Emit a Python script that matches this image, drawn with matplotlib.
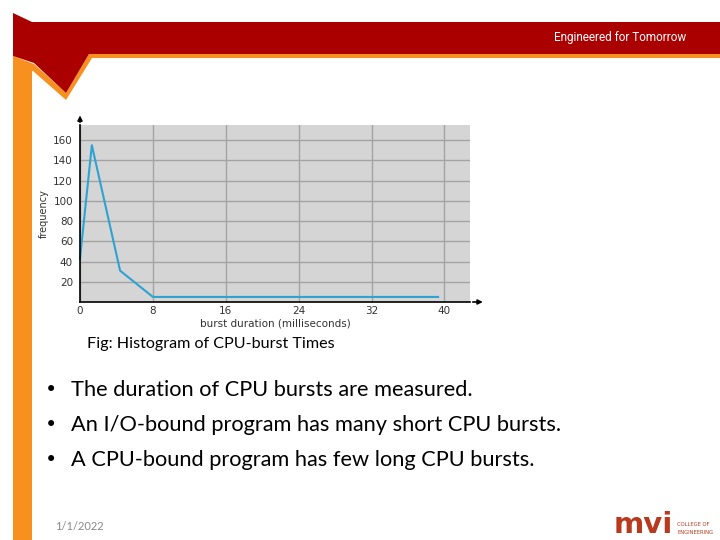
import matplotlib
matplotlib.use('Agg')
import matplotlib.pyplot as plt
from matplotlib.patches import Polygon

# Datos del histograma
burst_ms = [0, 1.3, 4.4, 8, 39.3]
frecuencia = [43, 155, 31, 5, 5]
xticks = [0, 8, 16, 24, 32, 40]
yticks = [20, 40, 60, 80, 100, 120, 140, 160]

caption = 'Fig: Histogram of CPU-burst Times'
bullets = ['The duration of CPU bursts are measured.',
           'An I/O-bound program has many short CPU bursts.',
           'A CPU-bound program has few long CPU bursts.']

W, H = 720, 540
fig = plt.figure(figsize=(7.2, 5.4), dpi=100)

# capa de la diapositiva en pixeles
bg = fig.add_axes([0, 0, 1, 1])
bg.set_xlim(0, W)
bg.set_ylim(H, 0)
bg.axis('off')

naranja = '#f7901e'
rojo = '#ab0000'
bg.add_patch(Polygon([(13, 56), (34, 64), (66, 93), (89, 54), (720, 54), (720, 58),
                      (92, 58), (66, 100), (33, 71), (32, 71), (32, 540), (13, 540)],
                     closed=True, color=naranja, lw=0))
bg.add_patch(Polygon([(13, 13), (32, 22), (720, 22), (720, 54), (89, 54), (66, 93),
                      (34, 63), (13, 56)], closed=True, color=rojo, lw=0))
bg.text(686, 37, 'Engineered for Tomorrow', color='white', fontsize=8.5,
        family='Roboto', ha='right', va='center')

bg.text(87, 344, caption, fontsize=11.6, family='Lato', va='center')
for i, b in enumerate(bullets):
    y = 390 + i * 35
    bg.text(45, y, '•', fontsize=15, family='DejaVu Sans', va='center')
    bg.text(71, y, b, fontsize=15.7, family='Lato', va='center')
bg.text(55, 527, '1/1/2022', fontsize=8, color='#888888', family='Lato', va='center')

# logo
bg.text(614, 539, 'mvi', fontsize=21, fontweight='bold', color='#b83a1e',
        family='DejaVu Sans', va='bottom')
bg.text(677, 525, 'COLLEGE OF', fontsize=3.8, color='#b83a1e', va='center')
bg.text(677, 532, 'ENGINEERING', fontsize=3.8, color='#b83a1e', va='center')

# grafico
ax = fig.add_axes([80 / W, (H - 302) / H, (470 - 80) / W, (302 - 125) / H])
ax.set_facecolor('#d5d5d5')
ax.set_xlim(0, 42.8)
ax.set_ylim(0, 175)
ax.set_xticks(xticks)
ax.set_yticks(yticks)
ax.grid(True, color='#a3a3a3', lw=1.0)
ax.set_axisbelow(True)
ax.tick_params(length=0, labelsize=7.5, colors='#333333', pad=5)
ax.tick_params(axis='x', pad=3)
for s in ['top', 'right']:
    ax.spines[s].set_visible(False)
ax.spines['left'].set_linewidth(1.2)
ax.spines['bottom'].set_linewidth(1.2)
ax.plot(burst_ms, frecuencia, color='#2ea3d2', lw=1.5, clip_on=False)

# flechas de los ejes
ax.annotate('', xy=(1.04, 0), xytext=(1.0, 0), xycoords='axes fraction',
            arrowprops=dict(arrowstyle='-|>', color='black', lw=1.2, mutation_scale=7))
ax.annotate('', xy=(0, 1.07), xytext=(0, 1.0), xycoords='axes fraction',
            arrowprops=dict(arrowstyle='-|>', color='black', lw=1.2, mutation_scale=7))

ax.set_xlabel('burst duration (milliseconds)', fontsize=7.5, color='#333333', labelpad=2)
ax.set_ylabel('frequency', fontsize=7, color='#333333', labelpad=3)

fig.savefig('out.png', dpi=100)
